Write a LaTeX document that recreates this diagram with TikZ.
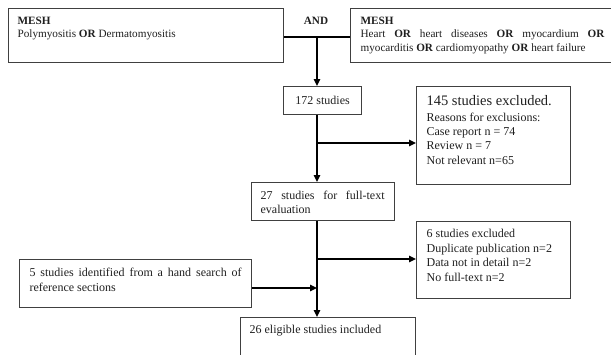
\documentclass[tikz,border=0pt]{standalone}
\usepackage{fontspec}
\setmainfont{Liberation Serif}
\usetikzlibrary{arrows.meta}
\tolerance=10000 \hbadness=10000 \hyphenpenalty=10000 \exhyphenpenalty=10000
% box width, left pad, text width, box height, first baseline, text
\newcommand{\bxt}[6]{\makebox[#1][l]{\hspace*{#2}\parbox[c][#4][t]{#3}{\rule{0pt}{#5}#6}}}
\newcommand{\fa}{\fontsize{11.2pt}{13.3pt}\selectfont}
\newcommand{\fb}{\fontsize{12pt}{14.3pt}\selectfont}
\tikzset{
  bx/.style={draw=black!75, line width=1.2pt, inner sep=0pt, anchor=north west, text=black!88},
  conn/.style={line width=1.4pt, black},
  arr/.style={conn, -{Triangle[length=7pt,width=6.5pt]}}
}
\begin{document}
\begin{tikzpicture}[x=1pt,y=-1pt]
\path[use as bounding box] (0,0) rectangle (611,354);
\clip (0,0) rectangle (611,354);

\node[bx] (L) at (8,8) {\bxt{275pt}{9pt}{257pt}{54pt}{16pt}{\fa\textbf{MESH}\\Polymyositis \textbf{OR} Dermatomyositis}};
\node[bx] (R) at (350,8) {\bxt{275pt}{10pt}{244pt}{54pt}{16pt}{\fa\textbf{MESH}\\Heart \textbf{OR} heart diseases \textbf{OR} myocardium \textbf{OR}\linebreak myocarditis \textbf{OR} cardiomyopathy \textbf{OR} heart failure}};
\node[font=\fa\bfseries, text=black!88] (and) at (316,21) {AND};

\node[bx, minimum width=78pt, minimum height=28pt, font=\fb] (n172) at (283,86) {172 studies};
\node[bx] (n145) at (416,86) {\bxt{154pt}{10pt}{140pt}{98pt}{19pt}{\fb{\fontsize{14.5pt}{16pt}\selectfont 145 studies excluded.}\\[1.4pt]Reasons for exclusions:\\Case report n = 74\\Review n = 7\\Not relevant n=65}};
\node[bx] (n27) at (251,182) {\bxt{143pt}{9pt}{124pt}{38pt}{17pt}{\fontsize{12pt}{14pt}\selectfont 27 studies for full-text\linebreak evaluation}};
\node[bx] (n6) at (416,221) {\bxt{154pt}{10pt}{140pt}{77pt}{16pt}{\fontsize{12pt}{14.6pt}\selectfont 6 studies excluded\\Duplicate publication n=2\\Data not in detail n=2\\No full-text n=2}};
\node[bx] (n5) at (19,259) {\bxt{232pt}{10pt}{212pt}{48pt}{17pt}{\fontsize{12pt}{15pt}\selectfont 5 studies identified from a hand search of\linebreak reference sections}};
\node[bx] (n26) at (240,317) {\bxt{175pt}{9pt}{160pt}{50pt}{16pt}{\fb 26 eligible studies included}};

\coordinate (j1) at (317,37);
\coordinate (b1) at (317,143);
\coordinate (b2) at (317,259);
\coordinate (b3) at (317,288);

\draw[conn] (L.east |- j1) -- (R.west |- j1);
\draw[arr] (j1) -- (j1 |- n172.north);
\draw[arr] (j1 |- n172.south) -- (j1 |- n27.north);
\draw[arr] (b1) -- (b1 -| n145.west);
\draw[arr] (j1 |- n27.south) -- (j1 |- n26.north);
\draw[arr] (b2) -- (b2 -| n6.west);
\draw[arr] (n5.east |- b3) -- (b3);
\end{tikzpicture}
\end{document}
